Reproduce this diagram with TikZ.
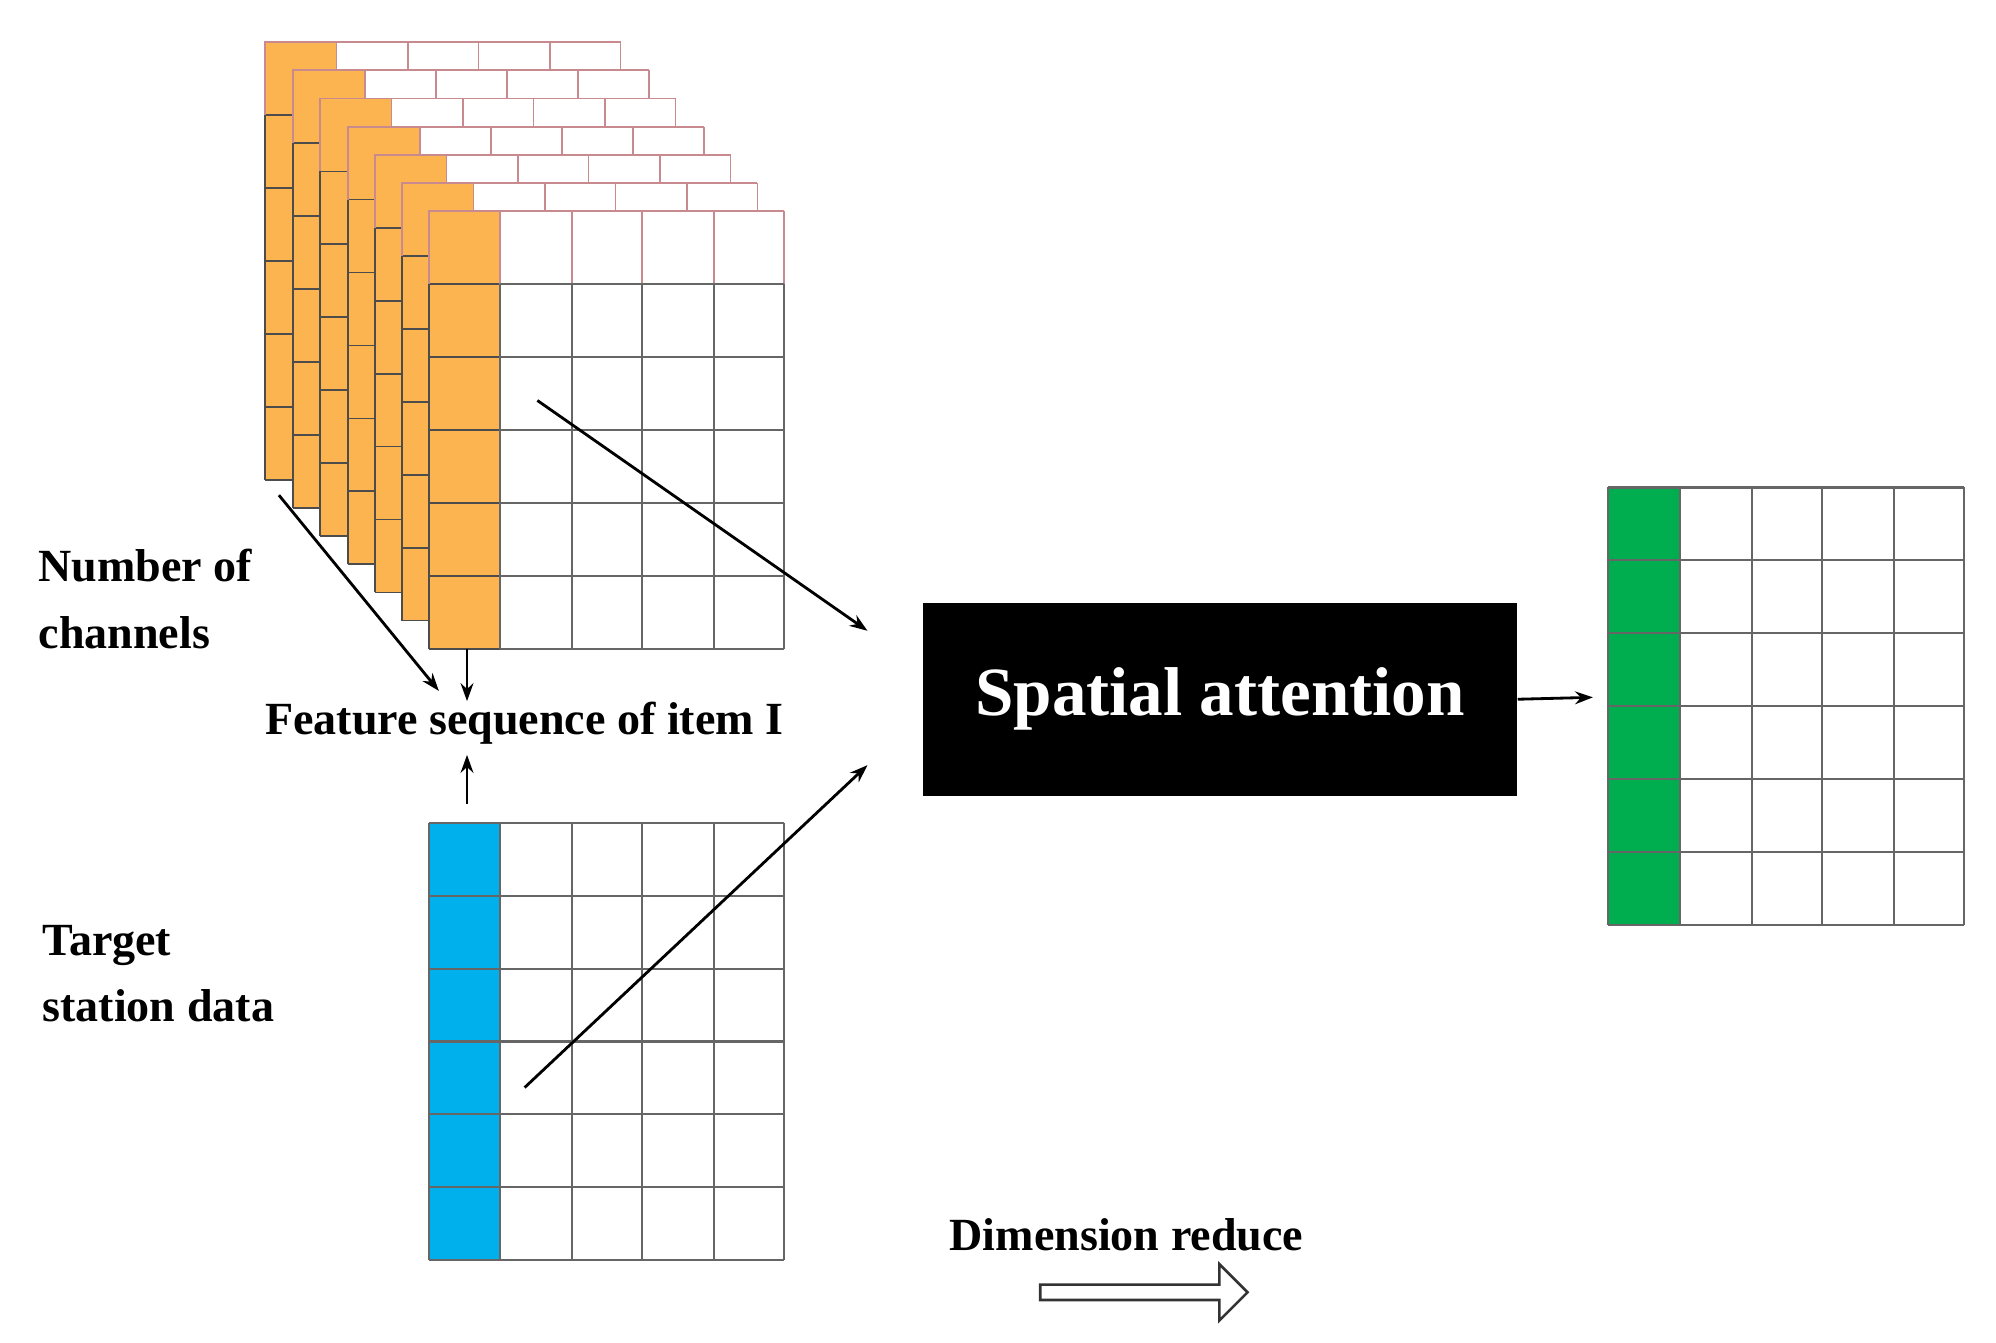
\documentclass[tikz,border=0pt]{standalone}
\usepackage{fontspec}
\setmainfont{Liberation Serif}
\usetikzlibrary{arrows.meta,shapes.arrows}
\definecolor{org}{HTML}{FBB450}
\definecolor{blu}{HTML}{00B0EC}
\definecolor{grn}{HTML}{00AD4F}
\definecolor{pnk}{HTML}{C98A8F}
\tikzset{lbl/.style={font=\bfseries\fontsize{36}{52}\selectfont,align=left,inner sep=0},
 arr/.style={-{Stealth[length=14pt,width=10pt]},line width=2.2pt}}
\newcommand{\mygrid}[4]{% x y color name
 \begin{scope}[shift={(#1,#2)}]
  \fill[white] (0,0) rectangle (278,342);
  \fill[#3] (0,0) rectangle (56,342);
  \foreach \i in {0,...,6}{\draw[gray!80!black,line width=1.6pt] (0,57*\i) -- (278,57*\i);}
  \foreach \x in {0,56,112,167,223,278}{\draw[gray!80!black,line width=1.6pt] (\x,0) -- (\x,342);}
  \node[inner sep=0,minimum width=278pt,minimum height=342pt,anchor=north west] (#4) at (0,0) {};
 \end{scope}}
\newcommand{\mylayer}[3]{% x y name
 \begin{scope}[shift={(#1,#2)}]
  \fill[white] (0,0) rectangle (278,342);
  \fill[org] (0,0) rectangle (56,342);
  \foreach \i in {1,...,6}{\draw[black!70,line width=1.4pt] (0,57*\i) -- (56,57*\i);}
  \foreach \x in {56,112,167,223,278}{\draw[pnk,line width=1.4pt] (\x,0) -- (\x,57);}
  \draw[pnk,line width=1.4pt] (0,57) -- (0,0) -- (278,0);
  \draw[black!70,line width=1.4pt] (0,57) -- (0,342);
  \foreach \i in {1,...,6}{\draw[gray!80!black,line width=1.4pt] (56,57*\i) -- (278,57*\i);}
  \foreach \x in {56,112,167,223,278}{\draw[gray!80!black,line width=1.4pt] (\x,57) -- (\x,342);}
  \node[inner sep=0,minimum width=278pt,minimum height=342pt,anchor=north west] (#3) at (0,0) {};
 \end{scope}}
\begin{document}
\begin{tikzpicture}[x=1pt,y=-1pt]
\useasboundingbox (0,0) rectangle (1560,1049);
\fill[white] (0,0) rectangle (1560,1049);
\mylayer{207}{33}{l1}
\mylayer{229}{55}{l2}
\mylayer{250}{77}{l3}
\mylayer{272}{99}{l4}
\mylayer{293}{121}{l5}
\mylayer{314}{143}{l6}
\mylayer{335}{165}{l7}
\mygrid{335}{643}{blu}{tg}
\mygrid{1257}{381}{grn}{og}
\node[fill=black,text=white,minimum width=465pt,minimum height=151pt,inner sep=0,
 font=\bfseries\fontsize{54}{60}\selectfont] (sa) at (953.5,546.5) {Spatial attention};
\node[lbl,anchor=west] (nc) at (30,468) {Number of\\channels};
\node[lbl,anchor=west] (ts) at (33,761) {Target\\station data};
\node[lbl,anchor=west] (fs) at (207,565) {Feature sequence of item I};
\node[lbl,anchor=west] (dr) at (742,965) {Dimension reduce};
\coordinate (a1) at (218,387); \coordinate (a1e) at (343,540);
\coordinate (a2) at (365,507); \coordinate (a2e) at (365,548);
\coordinate (a3) at (365,628); \coordinate (a3e) at (365,590);
\coordinate (a4) at (420,313); \coordinate (a4e) at (678,493);
\coordinate (a5) at (410,850); \coordinate (a5e) at (678,598);
\coordinate (a6e) at (1245,545);
\draw[arr] (a1) -- (a1e);
\draw[arr] (a2) -- (a2e);
\draw[arr] (a3) -- (a3e);
\draw[arr] (a4) -- (a4e);
\draw[arr] (a5) -- (a5e);
\draw[arr] (sa.east) -- (a6e);
\node[single arrow,draw=black!80,line width=2pt,fill=white,minimum width=44pt,
 single arrow head extend=8pt,single arrow tip angle=90,minimum height=162pt,inner sep=2pt] (da) at (891,1010) {};
\end{tikzpicture}
\end{document}
